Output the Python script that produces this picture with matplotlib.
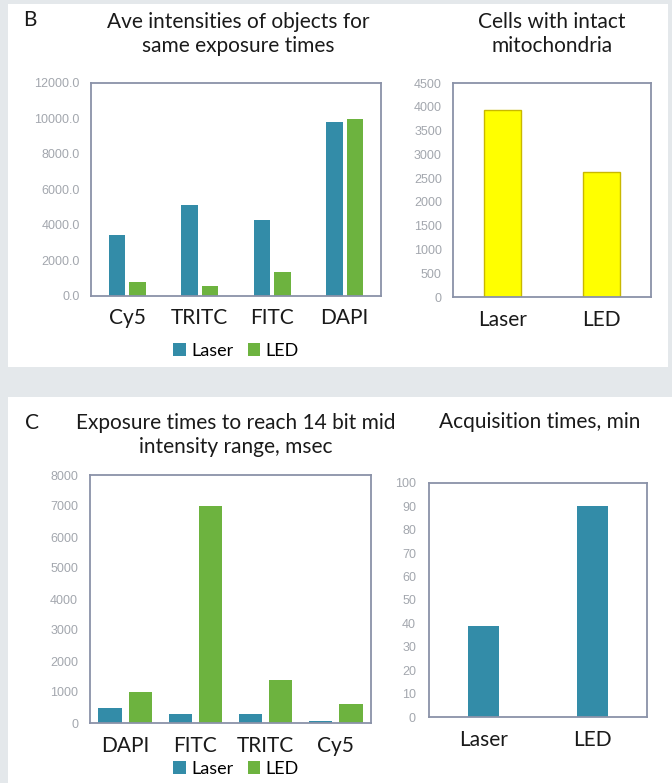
import numpy as np
import matplotlib.pyplot as plt
from matplotlib.patches import Rectangle

# panel B data
b_cats = ['Cy5', 'TRITC', 'FITC', 'DAPI']
b_laser = [3450, 5150, 4300, 9800]
b_led = [800, 580, 1370, 9950]
mito_cats = ['Laser', 'LED']
mito_vals = [3940, 2630]

# panel C data
c_cats = ['DAPI', 'FITC', 'TRITC', 'Cy5']
c_laser = [500, 300, 300, 50]
c_led = [1000, 7000, 1400, 600]
acq_cats = ['Laser', 'LED']
acq_vals = [39, 90]

teal = '#338ca8'
green = '#6db33f'
yellow = '#ffff00'
frame = '#8a92a8'
tickgray = '#a3a7ae'

plt.rcParams['font.family'] = ['Lato', 'DejaVu Sans']

W, H = 672, 783
fig = plt.figure(figsize=(W/100, H/100), dpi=100)
fig.patch.set_facecolor('#e4e8eb')

def px(x0, y0, x1, y1):
    return [x0/W, 1-y1/H, (x1-x0)/W, (y1-y0)/H]

# white panels
fig.patches.append(Rectangle((8/W, 1-367/H), 660/W, 363/H, transform=fig.transFigure,
                             facecolor='white', edgecolor='none', zorder=-5))
fig.patches.append(Rectangle((8/W, 0), 664/W, 1-397/H, transform=fig.transFigure,
                             facecolor='white', edgecolor='none', zorder=-5))

def style(ax, pad):
    for s in ax.spines.values():
        s.set_color(frame)
        s.set_linewidth(1.3)
    ax.tick_params(axis='y', length=0, labelsize=9, labelcolor=tickgray, pad=pad)
    ax.tick_params(axis='x', length=0, labelsize=15, labelcolor='#1a1a1a', pad=9)
    for t in ax.get_yticklabels():
        t.set_family('Liberation Sans')

def grouped(ax, cats, laser, led, w, gap):
    x = np.arange(len(cats))
    ax.bar(x - (w+gap)/2, laser, w, color=teal, label='Laser')
    ax.bar(x + (w+gap)/2, led, w, color=green, label='LED')
    ax.set_xticks(x)
    ax.set_xticklabels(cats)
    ax.set_xlim(-0.5, len(cats)-0.5)

# B left
ax1 = fig.add_axes(px(91, 83, 381, 296))
grouped(ax1, b_cats, b_laser, b_led, 0.23, 0.055)
ax1.set_ylim(0, 12000)
ax1.set_yticks(np.arange(0, 12001, 2000))
ax1.set_yticklabels(['%.1f' % v for v in np.arange(0, 12001, 2000)])
style(ax1, 8)

# B right
ax2 = fig.add_axes(px(453, 83, 651, 297))
ax2.bar(np.arange(2), mito_vals, 0.38, color=yellow, edgecolor='#c9b800', linewidth=1)
ax2.set_xticks(np.arange(2))
ax2.set_xticklabels(mito_cats)
ax2.set_xlim(-0.5, 1.5)
ax2.set_ylim(0, 4500)
ax2.set_yticks(np.arange(0, 4501, 500))
style(ax2, 8)

# C left
ax3 = fig.add_axes(px(90, 475, 371, 723))
grouped(ax3, c_cats, c_laser, c_led, 0.33, 0.1)
ax3.set_ylim(0, 8000)
ax3.set_yticks(np.arange(0, 8001, 1000))
style(ax3, 8.6)

# C right
ax4 = fig.add_axes(px(429, 483, 647, 717))
ax4.bar(np.arange(2), acq_vals, 0.29, color=teal)
ax4.set_xticks(np.arange(2))
ax4.set_xticklabels(acq_cats)
ax4.set_xlim(-0.5, 1.5)
ax4.set_ylim(0, 100)
ax4.set_yticks(np.arange(0, 101, 10))
style(ax4, 9.4)

def ftext(x, y, s, **kw):
    fig.text(x/W, 1-y/H, s, ha='center', va='center', fontsize=15, color='#1a1a1a',
             linespacing=1.25, **kw)

ftext(30, 20, 'B')
ftext(238, 34, 'Ave intensities of objects for\nsame exposure times')
ftext(552, 34, 'Cells with intact\nmitochondria')
ftext(32, 423, 'C')
ftext(236, 435, 'Exposure times to reach 14 bit mid\nintensity range, msec')
ftext(540, 422, 'Acquisition times, min')

for ax, y in [(ax1, 351), (ax3, 769)]:
    h, l = ax.get_legend_handles_labels()
    fig.legend(h, l, loc='center', bbox_to_anchor=(236/W, 1-y/H), ncol=2, frameon=False,
               fontsize=13, handlelength=0.7, handleheight=0.7, handletextpad=0.3,
               columnspacing=0.8, borderaxespad=0)

fig.savefig('out.png', dpi=100, facecolor=fig.get_facecolor())
